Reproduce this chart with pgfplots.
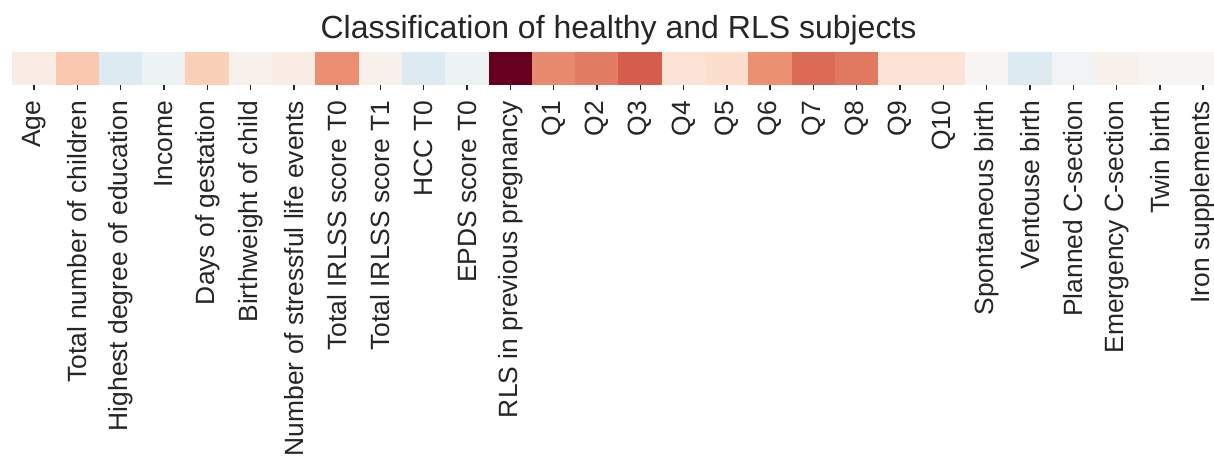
\documentclass[border=0pt]{standalone}
\usepackage{pgfplots}
\pgfplotsset{compat=1.18}
\usepackage{fontspec}
\setmainfont{Liberation Sans}
\definecolor{txt}{HTML}{262626}
\pgfplotsset{colormap={rdbu}{rgb255(0cm)=(5,48,97) rgb255(1cm)=(33,102,172) rgb255(2cm)=(67,147,195) rgb255(3cm)=(146,197,222) rgb255(4cm)=(209,229,240) rgb255(5cm)=(247,247,247) rgb255(6cm)=(253,219,199) rgb255(7cm)=(244,165,130) rgb255(8cm)=(214,96,77) rgb255(9cm)=(178,24,43) rgb255(10cm)=(103,0,31)}}
\begin{document}
\begin{tikzpicture}
\begin{axis}[
  at={(0,0)}, anchor=north west,
  scale only axis, width=606.2pt, height=16.15pt,
  xmin=-0.5, xmax=27.5, ymin=-0.5, ymax=0.5,
  enlargelimits=false,
  colormap name=rdbu, point meta min=-1, point meta max=1,
  axis line style={draw=none},
  ytick=\empty,
  xtick={0,...,27},
  xtick pos=bottom, tick align=outside,
  major tick length=3pt,
  every tick/.style={txt, line width=0.7pt},
  xticklabels={Age,Total number of children,Highest degree of education,Income,Days of gestation,Birthweight of child,Number of stressful life events,Total IRLSS score T0,Total IRLSS score T1,HCC T0,EPDS score T0,RLS in previous pregnancy,Q1,Q2,Q3,Q4,Q5,Q6,Q7,Q8,Q9,Q10,Spontaneous birth,Ventouse birth,Planned C-section,Emergency C-section,Twin birth,Iron supplements},
  xticklabel style={yshift=-4.3pt, rotate=90, anchor=east, font=\fontsize{13.2}{16}\selectfont, text=txt, inner sep=1pt},
  title={Classification of healthy and RLS subjects},
  title style={font=\fontsize{16}{19}\selectfont, text=txt, anchor=base, yshift=0.5pt, inner sep=0pt},
]
\addplot[scatter, only marks, mark=square*, mark size=10.825pt,
  mark options={yscale=0.746, line width=0.1pt},
  scatter/use mapped color={draw=mapped color, fill=mapped color},
  point meta=explicit] table[meta=v] {
x y v
0 0 0.08
1 0 0.27
2 0 -0.14
3 0 -0.05
4 0 0.24
5 0 0.05
6 0 0.07
7 0 0.47
8 0 0.05
9 0 -0.14
10 0 -0.05
11 0 1.00
12 0 0.48
13 0 0.52
14 0 0.61
15 0 0.14
16 0 0.18
17 0 0.46
18 0 0.57
19 0 0.53
20 0 0.14
21 0 0.14
22 0 0.02
23 0 -0.14
24 0 -0.03
25 0 0.05
26 0 0.02
27 0 0.02
};
\end{axis}
\pgfresetboundingbox
\useasboundingbox (-6.18pt,25.85pt) rectangle (600.8pt,-204.65pt);
\end{tikzpicture}
\end{document}
